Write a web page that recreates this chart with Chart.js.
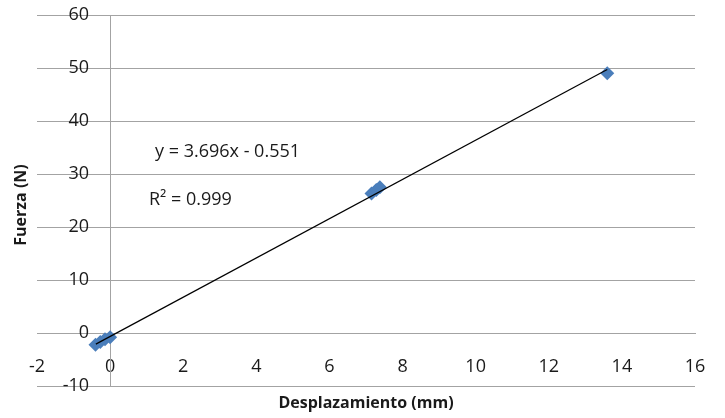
<!DOCTYPE html>
<html>
<head>
<meta charset="utf-8">
<script src="https://cdn.jsdelivr.net/npm/chart.js@4"></script>
<style>
  html, body { margin: 0; padding: 0; background: #fff; }
</style>
</head>
<body>
<canvas id="chart" width="725" height="418"></canvas>
<script>
// 축 범위 / 눈금
const xTicks = [-2, 0, 2, 4, 6, 8, 10, 12, 14, 16];
const yTicks = [-10, 0, 10, 20, 30, 40, 50, 60];

// 측정값 (변위 mm, 힘 N)
const dispValues = [-0.4, -0.27, -0.14, 0.0, 7.15, 7.28, 7.38, 13.6];
const forceValues = [-2.2, -1.7, -1.2, -0.8, 26.3, 27.0, 27.5, 49.0];

// 추세선 끝점
const trendX = [-0.39, 13.6];
const trendY = [-2.1, 49.7];

// 텍스트
const equationText = 'y = 3.696x - 0.551';
const r2Text = 'R² = 0.999';
const xTitle = 'Desplazamiento (mm)';
const yTitle = 'Fuerza (N)';

const FONT = '"Open Sans", sans-serif';
const TEXT_COLOR = '#1a1a1a';
const GRID_COLOR = '#a3a3a3';

// y축 눈금 라벨, 축 제목, 수식 그리기
const labelsPlugin = {
    id: 'labels',
    afterDraw(chart) {
        const ctx = chart.ctx;
        const xs = chart.scales.x;
        const ys = chart.scales.y;
        ctx.save();
        ctx.fillStyle = TEXT_COLOR;
        ctx.textBaseline = 'middle';

        // y축 라벨은 x=0 축선 왼쪽에
        ctx.font = '18px ' + FONT;
        ctx.textAlign = 'right';
        const axisX = xs.getPixelForValue(0);
        yTicks.forEach(v => {
            ctx.fillText(String(v), axisX - 21, ys.getPixelForValue(v));
        });

        ctx.textAlign = 'left';
        ctx.fillText(equationText, 155, 152);
        ctx.fillText(r2Text, 149, 200);

        ctx.font = 'bold 16px ' + FONT;
        ctx.textAlign = 'center';
        ctx.fillText(xTitle, (chart.chartArea.left + chart.chartArea.right) / 2, 403);

        ctx.translate(21, 205);
        ctx.rotate(-Math.PI / 2);
        ctx.fillText(yTitle, 0, 0);
        ctx.restore();
    }
};

new Chart(document.getElementById('chart'), {
    type: 'scatter',
    data: {
        datasets: [
            {
                type: 'line',
                data: trendX.map((x, i) => ({ x: x, y: trendY[i] })),
                borderColor: '#000',
                borderWidth: 1.2,
                pointRadius: 0,
                fill: false
            },
            {
                data: dispValues.map((x, i) => ({ x: x, y: forceValues[i] })),
                pointStyle: 'rectRot',
                pointRadius: 7,
                backgroundColor: '#4A7EBB',
                borderColor: '#4A7EBB',
                borderWidth: 0
            }
        ]
    },
    options: {
        responsive: false,
        animation: false,
        layout: { padding: { left: 37, right: 30, top: 15, bottom: 32 } },
        plugins: {
            legend: { display: false },
            tooltip: { enabled: false }
        },
        scales: {
            x: {
                type: 'linear',
                position: { y: 0 },
                min: -2,
                max: 16,
                afterBuildTicks: scale => { scale.ticks = xTicks.map(v => ({ value: v })); },
                grid: { display: false },
                border: { display: true, color: GRID_COLOR, width: 1 },
                ticks: { padding: 15, color: TEXT_COLOR, font: { family: FONT, size: 18 } }
            },
            y: {
                type: 'linear',
                position: { x: 0 },
                min: -10,
                max: 60,
                afterBuildTicks: scale => { scale.ticks = yTicks.map(v => ({ value: v })); },
                grid: { color: GRID_COLOR, lineWidth: 1, drawTicks: false },
                border: { display: true, color: GRID_COLOR, width: 1 },
                ticks: { display: false }
            }
        }
    },
    plugins: [labelsPlugin]
});
</script>
</body>
</html>
